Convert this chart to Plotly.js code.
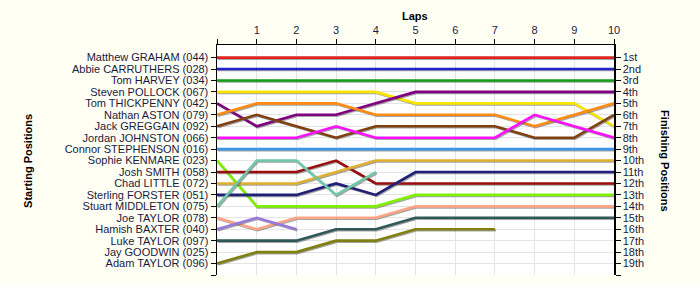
<!DOCTYPE html>
<html><head><meta charset="utf-8">
<script src="https://cdn.plot.ly/plotly-3.0.1.min.js"></script>
<style>
html,body{margin:0;padding:0;background:#FFFFF4;}
#chart{width:700px;height:285px;}
.scatterlayer .trace path.js-line{filter:drop-shadow(1.5px 1.5px 0 rgba(90,90,90,0.55));}
</style>
</head><body><div id="chart"></div>
<script>
// Drivers in starting order (row = starting position)
const drivers = ["Matthew GRAHAM (044)","Abbie CARRUTHERS (028)","Tom HARVEY (034)","Steven POLLOCK (067)","Tom THICKPENNY (042)","Nathan ASTON (079)","Jack GREGGAIN (092)","Jordan JOHNSTON (066)","Connor STEPHENSON (016)","Sophie KENMARE (023)","Josh SMITH (058)","Chad LITTLE (072)","Sterling FORSTER (051)","Stuart MIDDLETON (075)","Joe TAYLOR (078)","Hamish BAXTER (040)","Luke TAYLOR (097)","Jay GOODWIN (025)","Adam TAYLOR (096)"];
const finishLabels = ["1st","2nd","3rd","4th","5th","6th","7th","8th","9th","10th","11th","12th","13th","14th","15th","16th","17th","18th","19th"];
const laps = [0,1,2,3,4,5,6,7,8,9,10];
const lapLabels = ["","1","2","3","4","5","6","7","8","9","10"];

// Position of each driver at each lap (lap 0 = start)
const pos_GRAHAM      = [1,1,1,1,1,1,1,1,1,1,1];
const pos_CARRUTHERS  = [2,2,2,2,2,2,2,2,2,2,2];
const pos_HARVEY      = [3,3,3,3,3,3,3,3,3,3,3];
const pos_POLLOCK     = [4,4,4,4,4,5,5,5,5,5,7];
const pos_THICKPENNY  = [5,7,6,6,5,4,4,4,4,4,4];
const pos_ASTON       = [6,5,5,5,6,6,6,6,7,6,5];
const pos_GREGGAIN    = [7,6,7,8,7,7,7,7,8,8,6];
const pos_JOHNSTON    = [8,8,8,7,8,8,8,8,6,7,8];
const pos_STEPHENSON  = [9,9,9,9,9,9,9,9,9,9,9];
const pos_KENMARE     = [10,14,14,14,14,13,13,13,13,13,13];
const pos_SMITH       = [11,11,11,10,12,12,12,12,12,12,12];
const pos_LITTLE      = [12,12,12,11,10,10,10,10,10,10,10];
const pos_FORSTER     = [13,13,13,12,13,11,11,11,11,11,11];
const pos_MIDDLETON   = [14,10,10,13,11];
const pos_JTAYLOR     = [15,16,15,15,15,14,14,14,14,14,14];
const pos_BAXTER      = [16,15,16];
const pos_LTAYLOR     = [17,17,17,16,16,15,15,15,15,15,15];
const pos_GOODWIN     = [];
const pos_ATAYLOR     = [19,18,18,17,17,16,16,16];

const series = [
  [pos_GRAHAM,"#DC2222"],[pos_CARRUTHERS,"#2222CC"],[pos_HARVEY,"#10A010"],
  [pos_POLLOCK,"#F8E600"],[pos_THICKPENNY,"#800080"],[pos_ASTON,"#FF8A14"],
  [pos_GREGGAIN,"#804010"],[pos_JOHNSTON,"#FF10FF"],[pos_STEPHENSON,"#3C96E6"],
  [pos_KENMARE,"#80F000"],[pos_SMITH,"#9A0E0E"],[pos_LITTLE,"#E0B030"],
  [pos_FORSTER,"#202078"],[pos_MIDDLETON,"#70C8AA"],[pos_JTAYLOR,"#FFA585"],
  [pos_BAXTER,"#9878DC"],[pos_LTAYLOR,"#305858"],[pos_GOODWIN,"#888888"],
  [pos_ATAYLOR,"#808010"]
];

const traces = series.map((s,i)=>({
  x: laps.slice(0, s[0].length), y: s[0], type:"scatter", mode:"lines",
  name: drivers[i], line:{color:s[1], width:2.6}, hoverinfo:"skip", showlegend:false
}));
traces.push({x:[null], y:[null], yaxis:"y2", type:"scatter", mode:"lines", showlegend:false, hoverinfo:"skip"});

const ticks = drivers.map((d,i)=>i+1).concat([20]);
const tickFont = {family:"Liberation Sans, Arial, sans-serif", size:11, color:"#1a1a40"};
const titleFont = {family:"Liberation Sans, Arial, sans-serif", size:11, color:"#000", weight:"bold"};

const layout = {
  width:700, height:285,
  paper_bgcolor:"#FFFFF4", plot_bgcolor:"#FFFFFF",
  margin:{l:217, r:86, t:45, b:10},
  xaxis:{side:"top", range:[0,10], tickvals:laps, ticktext:lapLabels, ticks:"outside", ticklen:5,
    showline:true, linecolor:"#000", linewidth:1.5, tickcolor:"#000", showgrid:true, gridcolor:"#E4E4E4",
    zeroline:false, tickfont:tickFont, fixedrange:true},
  yaxis:{range:[20,-0.1], tickvals:ticks, ticktext:drivers.concat([""]), ticks:"outside", ticklen:5,
    showline:true, linecolor:"#000", linewidth:1.5, tickcolor:"#000", showgrid:true, gridcolor:"#E4E4E4",
    zeroline:false, tickfont:tickFont},
  yaxis2:{overlaying:"y", side:"right", range:[20,-0.1], tickvals:ticks, ticktext:finishLabels.concat([""]),
    ticks:"outside", ticklen:5, showline:true, linecolor:"#000", linewidth:1.5, tickcolor:"#000",
    showgrid:false, zeroline:false, tickfont:tickFont},
  annotations:[
    {text:"Laps", xref:"paper", yref:"paper", x:0.4987, y:1.126, showarrow:false, xanchor:"center", yanchor:"middle", font:titleFont},
    {text:"Starting Positions", xref:"paper", yref:"paper", x:-0.476, y:0.496, textangle:-90, showarrow:false, xanchor:"center", yanchor:"middle", font:titleFont},
    {text:"Finishing Positions", xref:"paper", yref:"paper", x:1.128, y:0.496, textangle:90, showarrow:false, xanchor:"center", yanchor:"middle", font:titleFont}
  ]
};
Plotly.newPlot("chart", traces, layout, {displayModeBar:false, staticPlot:true});
</script>
</body></html>
